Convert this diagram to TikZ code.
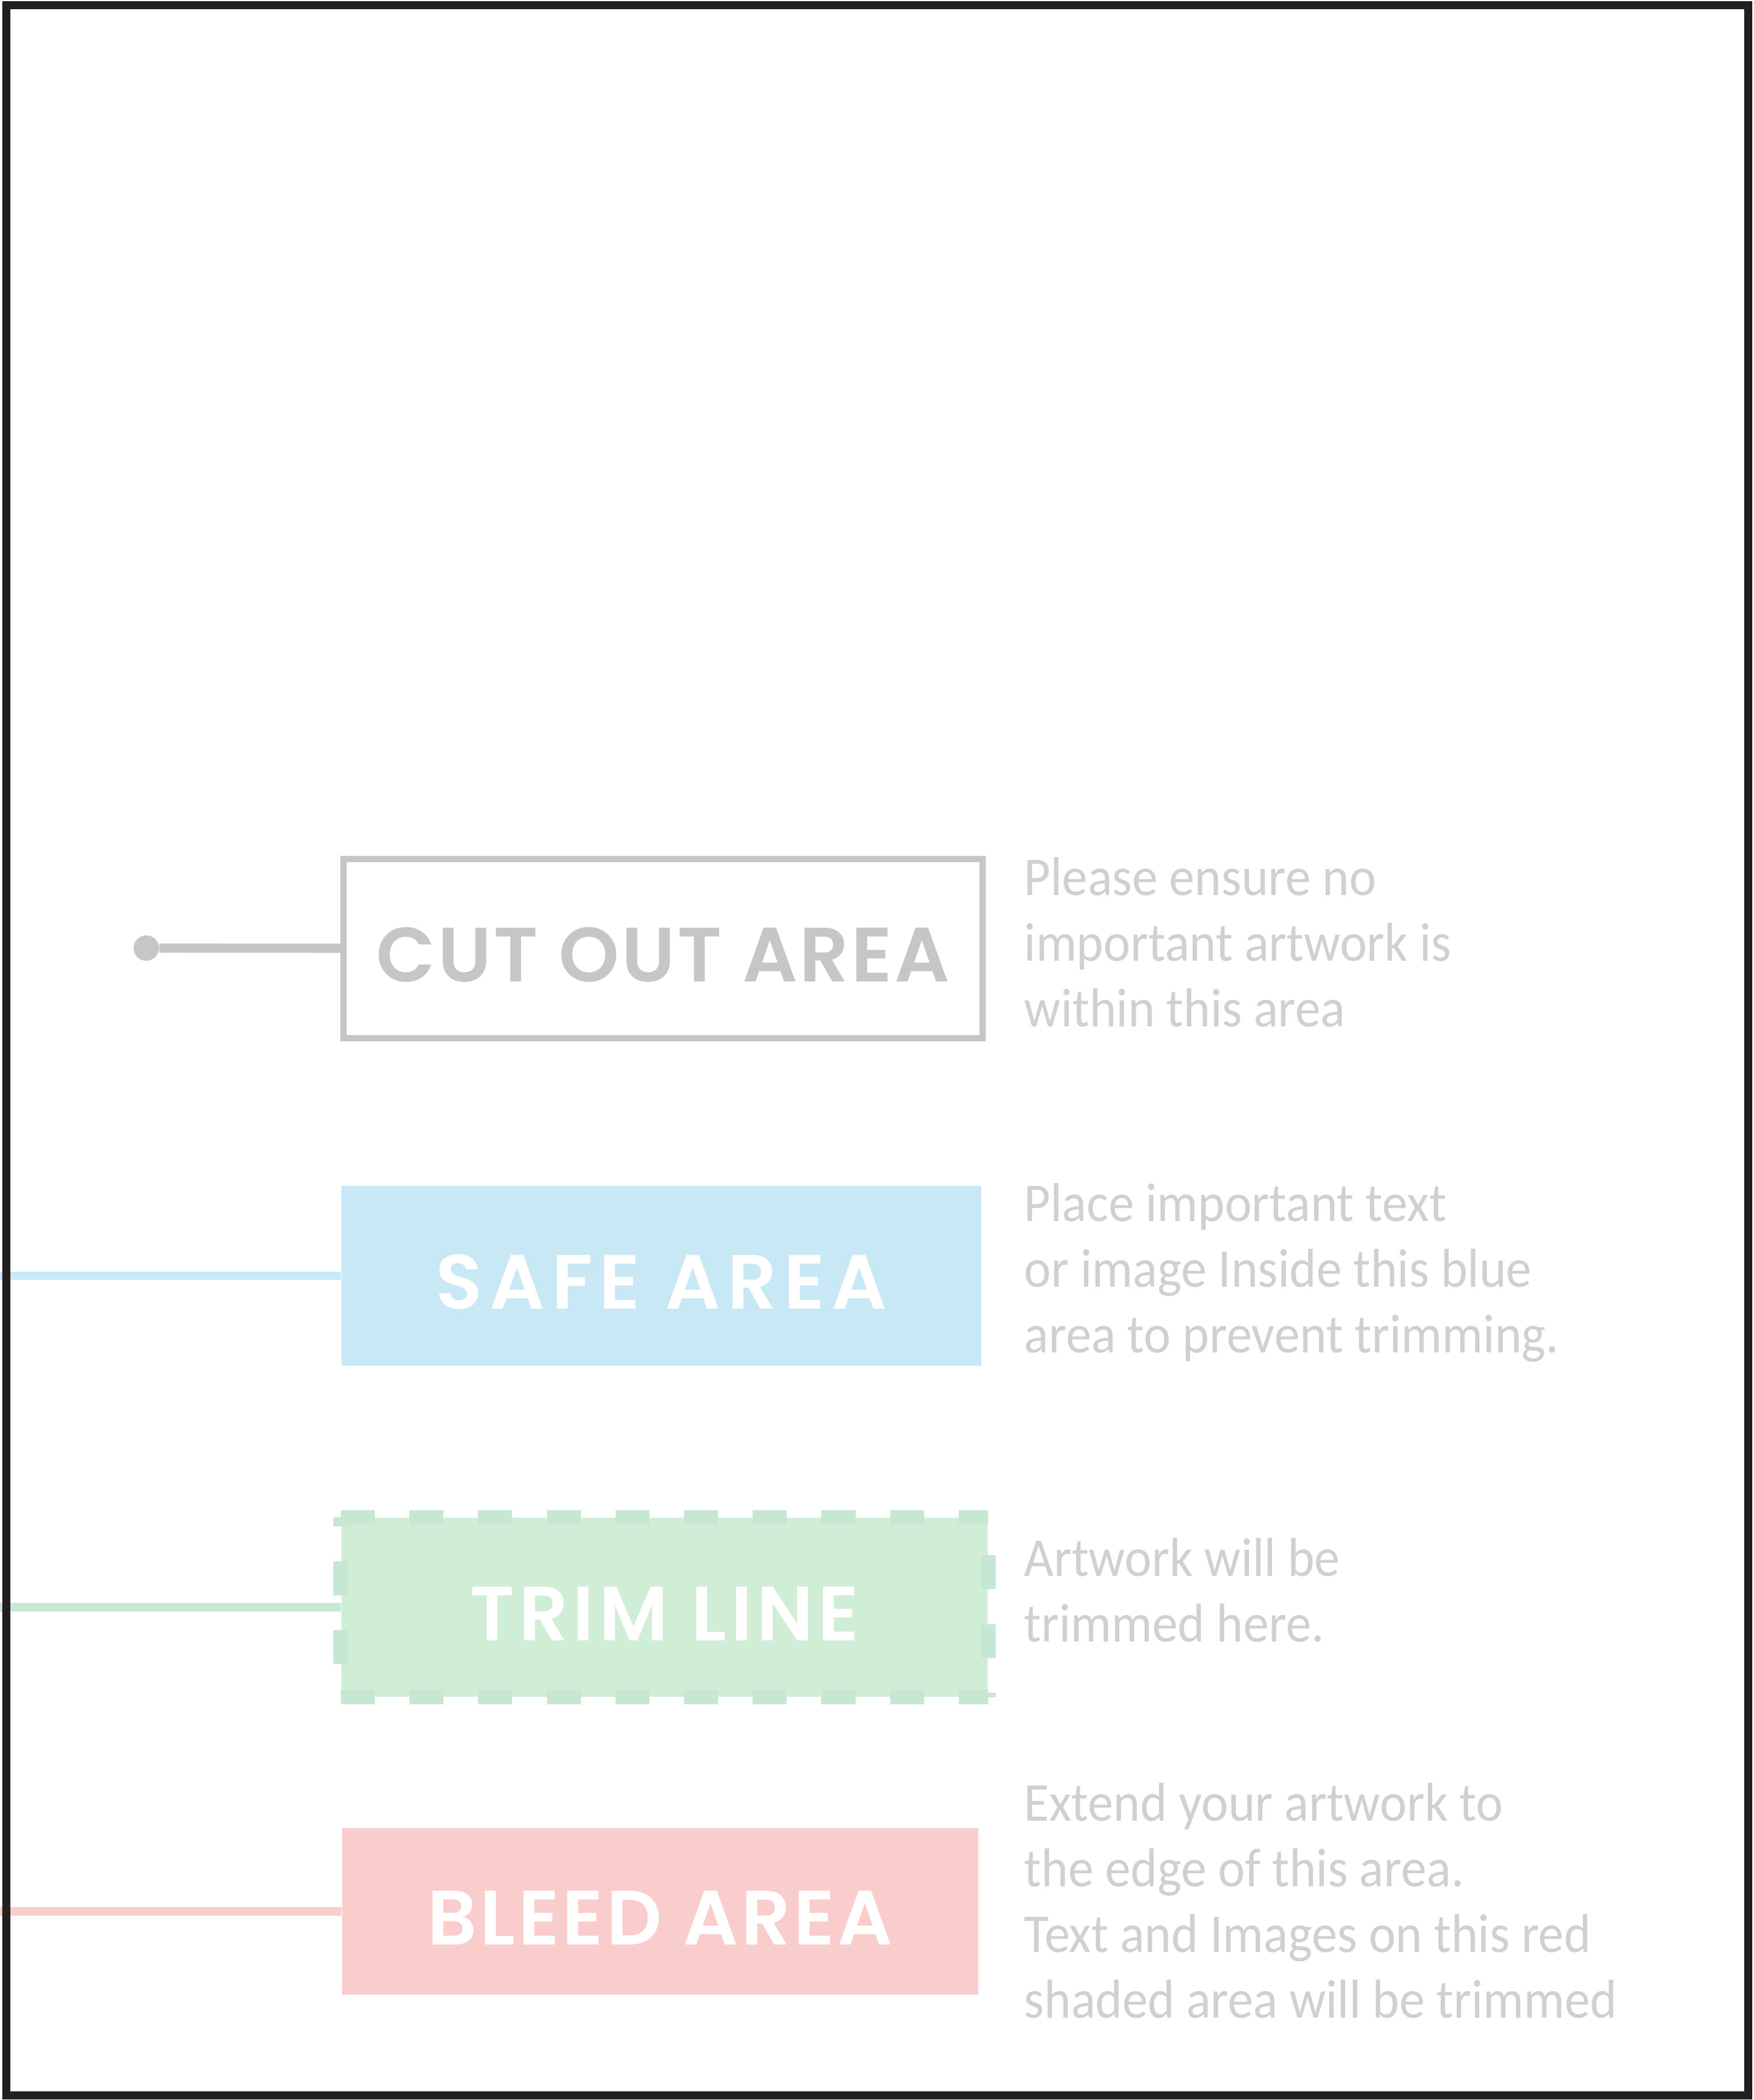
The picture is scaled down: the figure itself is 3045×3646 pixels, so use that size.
\documentclass[tikz,border=0pt]{standalone}
\usepackage{fontspec}
\usepackage{xcolor}
\usetikzlibrary{positioning}
\newfontfamily\tagfont[LetterSpace=4]{Poppins SemiBold}
\newfontfamily\notefont[FakeStretch=0.935]{Carlito}
\definecolor{sheetdark}{HTML}{231F20}
\definecolor{cutgray}{HTML}{C6C6C6}
\definecolor{notegray}{HTML}{D0D0D0}
\definecolor{safeblue}{HTML}{C9E8F5}
\definecolor{trimgreen}{HTML}{D0EDD5}
\definecolor{trimdash}{HTML}{C6E7D3}
\definecolor{bleedred}{HTML}{F8CDCB}
\newcommand{\tagspace}[1]{\addfontfeatures{LetterSpace=#1}}

\begin{document}
\begin{tikzpicture}[
  x=0.01cm, y=-0.01cm,
  tagbox/.style={rectangle, inner sep=0pt, text=white, text height=33pt, font=\tagfont\fontsize{38}{40}\selectfont},
  note/.style={anchor=base west, align=left, inner sep=0pt, text=notegray, font=\notefont\fontsize{27}{32.4}\selectfont},
  lead/.style={line width=4.5pt},
  trimedge/.style={trimdash, line width=7.1pt, dash pattern=on 16.8pt off 17.1pt}
]
\useasboundingbox (0,0) rectangle (3045,3646);
\fill[white] (0,0) rectangle (3045,3646);

% area boxes
\node[tagbox, draw=cutgray, line width=3.1pt, text=cutgray, minimum width=11.09cm, minimum height=3.1cm] (cut) at (1151.5,1647) {\tagspace{3}CUT OUT AREA};
\node[tagbox, fill=safeblue, minimum width=11.11cm, minimum height=3.12cm] (safe) at (1148.5,2215) {\tagspace{9}SAFE AREA};
\node[tagbox, fill=trimgreen, minimum width=11.22cm, minimum height=3.11cm] (trim) at (1154,2790.5) {\tagspace{6}TRIM LINE};
\node[tagbox, fill=bleedred, minimum width=11.05cm, minimum height=2.89cm] (bleed) at (1146.5,3318.5) {BLEED AREA};

% dashed trim border
\draw[trimedge] (trim.north west) -- (trim.north east);
\draw[trimedge] (trim.south west) -- (trim.south east);
\draw[trimedge] ([yshift=16.5pt]trim.south west) -- (trim.north west);
\draw[trimedge] ([yshift=-18.8pt]trim.north east) -- (trim.south east);

% leads
\node[circle, fill=cutgray, inner sep=0pt, minimum size=12.5pt] (pin) at (254,1646) {};
\coordinate (safestart) at (0,2215);
\coordinate (trimstart) at (0,2790.5);
\coordinate (bleedstart) at (0,3318.5);
\draw[lead, cutgray] (pin) -- (cut);
\draw[lead, safeblue, line width=4pt] (safestart) -- (safe);
\draw[lead, trimdash] (trimstart) -- (trim);
\draw[lead, bleedred] (bleedstart) -- (bleed);

% sheet frame
\draw[sheetdark, line width=4pt] (11,9) rectangle (3036,3638);

% notes (anchored on the last line)
\node[note] (cutnote) at (1778,1782) {Please ensure no\\important artwork is\\within this area};
\node[note] (safenote) at (1778,2348) {Place important text\\or image Inside this blue\\area to prevent trimming.};
\node[note] (trimnote) at (1778,2850) {Artwork will be\\trimmed here.};
\node[note] (bleednote) at (1778,3503) {Extend your artwork to\\the edge of this area.\\Text and Images on this red\\shaded area will be trimmed};
\end{tikzpicture}
\end{document}
